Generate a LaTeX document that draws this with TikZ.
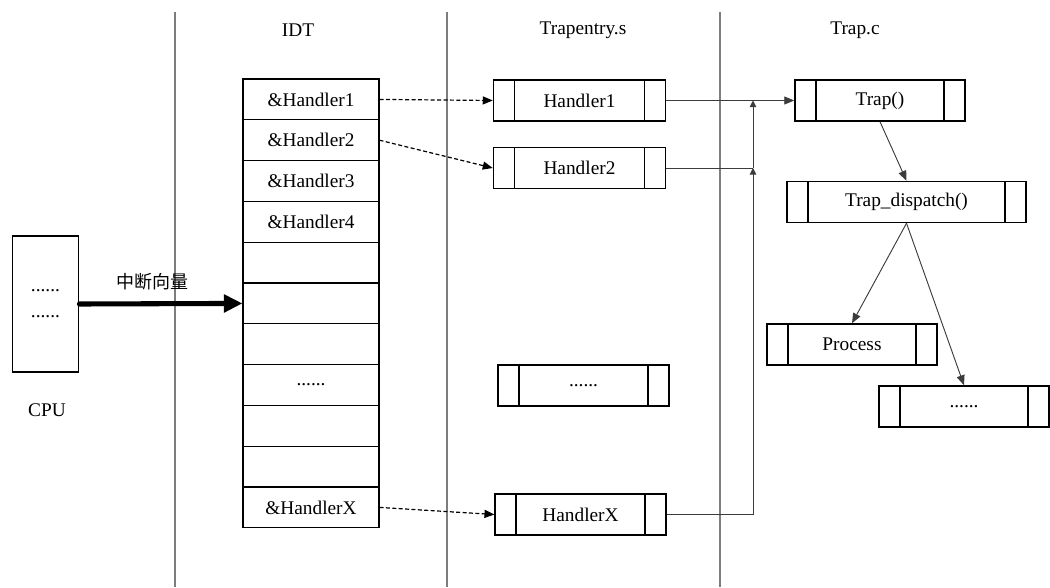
\documentclass[tikz,border=0pt]{standalone}
\usepackage{fontspec}
\setmainfont{Liberation Serif}
\newfontfamily\cjk{Noto Sans CJK SC}
\usetikzlibrary{arrows.meta}

\begin{document}
\begin{tikzpicture}[x=0.75pt, y=-0.75pt, >={Triangle[length=7.5pt,width=6pt]}, font=\fontsize{14.5}{16}\selectfont]
    \definecolor{sepcolor}{RGB}{125,125,125}
    \definecolor{wirecolor}{RGB}{60,60,60}
    \tikzset{
        idtrow/.style={draw, line width=0.8pt, minimum width=102pt, minimum height=30.6pt, inner sep=0pt},
        fnbox/.style={draw, line width=1.1pt, minimum width=#1, minimum height=30.75pt, inner sep=0pt,
            path picture={
                \draw[line width=1.1pt] ([xshift=15.75pt]path picture bounding box.north west) -- ([xshift=15.75pt]path picture bounding box.south west);
                \draw[line width=1.1pt] ([xshift=-15.75pt]path picture bounding box.north east) -- ([xshift=-15.75pt]path picture bounding box.south east);
            }},
        wire/.style={wirecolor, line width=0.7pt},
        tip/.style={-{Triangle[length=5pt,width=5pt]}},
        ptr/.style={->, line width=0.9pt, dash pattern=on 3pt off 1.8pt},
    }

    \useasboundingbox (0,0) rectangle (1050,587);

    \foreach \x in {175, 447, 720} {
            \draw[sepcolor, line width=0.9pt] (\x,12) -- (\x,587);
        }

    \node (idt) at (298,30) {IDT};
    \node (tentry) at (583,30) {Trapentry.s};
    \node (trapc) at (855,30) {Trap.c};

    % CPU and the interrupt vector
    \node[draw, line width=0.9pt, minimum width=50pt, minimum height=102pt, align=center, font=\fontsize{14.5}{19.5}\selectfont] (cpu) at (45.5,304) {......\\......};
    \node (cpulabel) at (47,410) {CPU};

    \foreach \i/\txt in {1/{\&Handler1}, 2/{\&Handler2}, 3/{\&Handler3}, 4/{\&Handler4}, 5/{}, 6/{}, 7/{}, 8/{......}, 9/{}, 10/{}, 11/{\&HandlerX}} {
            \node[idtrow] (r\i) at (311, {79+40.8*(\i-0.5)}) {\txt};
        }

    \draw[line width=3.8pt, line cap=round, -{Triangle[length=14pt,width=13pt]}] (cpu.east) -- (r6.west)
    node[pos=0.45, above=5pt, font=\cjk\fontsize{13.5}{16}\selectfont] (vec) {中断向量};

    % entry stubs and trap handlers
    \node[fnbox=129pt] (h1) at (579.5,100.5) {Handler1};
    \node[fnbox=129pt] (h2) at (579.5,168) {Handler2};
    \node[fnbox=128pt] (hdots) at (583.5,385.5) {......};
    \node[fnbox=128pt] (hx) at (580.5,514.5) {HandlerX};

    \node[fnbox=127.5pt] (trap) at (880,100.5) {Trap()};
    \node[fnbox=179pt] (disp) at (906.5,202) {Trap\_dispatch()};
    \node[fnbox=127.5pt] (proc) at (852,344.5) {Process};
    \node[fnbox=127.5pt] (more) at (964,406.5) {......};

    \draw[ptr] (r1.east) -- (h1.west);
    \draw[ptr] (r2.east) -- (h2.west);
    \draw[ptr] (r11.east) -- (hx.west);

    \coordinate (j1) at (753,100.5);
    \coordinate (j2) at (753,168);
    \draw[wire, ->] (h1.east) -- (trap.west);
    \draw[wire] (h2.east) -- (j2);
    \draw[wire, tip] (hx.east) -| (j2);
    \draw[wire, tip] (j2) -- (j1);

    \draw[wire, ->] (trap.south) -- (disp.north);
    \draw[wire, ->] (disp.south) -- (proc.north);
    \draw[wire, ->] (disp.south) -- (more.north);
\end{tikzpicture}
\end{document}
